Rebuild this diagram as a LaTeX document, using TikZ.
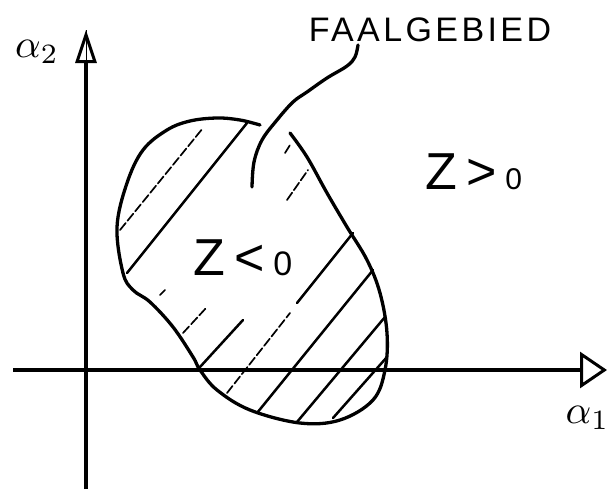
\documentclass[tikz,border=0pt]{standalone}
\usepackage{fontspec}
\setmainfont{Liberation Sans}
\usetikzlibrary{arrows.meta}
\begin{document}
\begin{tikzpicture}[x=1pt,y=-1pt,
  axis/.style={line width=3.8pt},
  blob/.style={line width=3.3pt, line join=round, line cap=round},
  hatch/.style={line width=2.5pt, line cap=round},
  faint/.style={line width=1.7pt, dash pattern=on 9pt off 3pt, line cap=round},
  lbl/.style={inner sep=0pt}]
\useasboundingbox (0,0) rectangle (612,490);
% axes
\coordinate (ybot) at (86,489);
\coordinate (ytop) at (86,30);
\coordinate (yhead) at (86,63);
\coordinate (xleft) at (13,370);
\coordinate (xright) at (607,370);
\coordinate (xhead) at (580,370);
\draw[axis, -{Triangle[open, length=33pt, width=21pt, line width=3pt]}] (ybot) -- (ytop);
\draw[line width=1pt] (yhead) -- (ytop);
\draw[axis, -{Triangle[open, length=27pt, width=36pt, line width=3pt]}] (xleft) -- (xright);
% labels
\node[lbl, scale=4] (a2) at (37,52) {$\alpha_2$};
\node[lbl, scale=4, anchor=east] (a1) at (610,418) {$\alpha_1$};
\node[lbl] (fg) at (430,30) {\fontsize{34}{34}\selectfont\addfontfeature{LetterSpace=10}FAALGEBIED};
\node[lbl] (zlt) at (243,258) {\fontsize{52}{52}\selectfont Z\,<\,{\fontsize{34}{34}\selectfont 0}};
\node[lbl] (zgt) at (474,172) {\fontsize{52}{52}\selectfont Z\,>\,{\fontsize{30}{30}\selectfont 0}};
% leader
\coordinate (fgfoot) at (358,45);
\coordinate (fgend) at (252,187);
\draw[blob] plot[smooth, tension=0.6] coordinates {(fgfoot) (355,57) (347,66) (327,78) (307,92) (293,102) (277,120) (262,140) (254,162) (fgend)};
% failure region outline
\draw[blob] plot[smooth, tension=0.6] coordinates {(260,125) (240,120) (217,118) (190,121) (167,130) (143,150) (127,183) (117,227) (123,273) (133,290) (150,302) (173,327) (193,357) (200,370) (217,390) (250,410) (300,423) (340,420) (373,400) (385,370) (387,333) (380,293) (367,260) (347,227) (327,193) (307,157) (290,133)};
% hatching
\draw[hatch] (127,273) -- (247,123);
\draw[hatch] (200,367) -- (243,320);
\draw[hatch] (257,413) -- (373,270);
\draw[hatch] (297,422) -- (385,317);
\draw[hatch] (333,418) -- (387,357);
\draw[faint] (120,230) -- (203,128);
\draw[faint] (285,153) -- (290,145);
\draw[faint] (287,200) -- (308,170);
\draw[faint] (160,295) -- (165,290);
\draw[faint] (183,333) -- (207,307);
\draw[faint] (227,393) -- (290,313);
\draw[hatch] (297,303) -- (353,233);
\end{tikzpicture}
\end{document}
